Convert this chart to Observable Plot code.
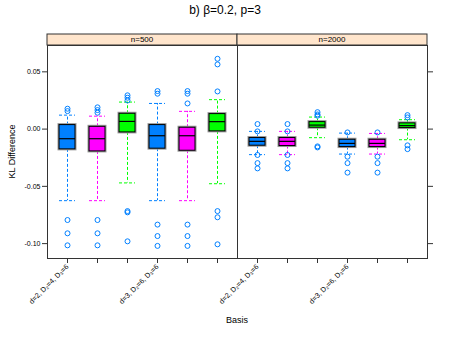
<!DOCTYPE html>
<html>
<head>
<meta charset="utf-8">
<script src="https://cdn.jsdelivr.net/npm/d3@7"></script>
<script src="https://cdn.jsdelivr.net/npm/@observablehq/plot@0.6"></script>
<style>
  body { margin: 0; background: #fff; font-family: "Liberation Sans", Arial, sans-serif; }
  #title { height: 22px; line-height: 20px; text-align: center; font-size: 12px; color: #000; width: 450px; }
</style>
</head>
<body>
<div id="title">b) β=0.2, p=3</div>
<div id="chart"></div>
<script>
const panels = ["n=500", "n=2000"];
const boxKeys = ["b1", "b2", "b3", "b4", "b5", "b6"];
const seriesOf = ["A", "B", "C", "A", "B", "C"];
const seriesNames = ["A", "B", "C"];
const seriesColors = ["#0080ff", "#ff00ff", "#00ff00"];
const tickLabels = ["d=2, D₂=4, D₃=6", "", "", "d=3, D₂=6, D₃=6", "", ""];
const yTicks = [0.05, 0, -0.05, -0.10];

// n=500
const q1_500  = [-0.0177, -0.0195, -0.0029, -0.0171, -0.0189, -0.0020];
const med_500 = [-0.0084, -0.0084, 0.0067, -0.0058, -0.0058, 0.0065];
const q3_500  = [0.0035, 0.0020, 0.0134, 0.0035, 0.0012, 0.0131];
const lo_500  = [-0.0625, -0.0625, -0.0470, -0.0625, -0.0625, -0.0477];
const hi_500  = [0.0122, 0.0113, 0.0236, 0.0224, 0.0155, 0.0257];
const out_500 = [
  [0.0178, 0.0157, -0.0794, -0.0910, -0.1015],
  [0.0190, 0.0166, 0.0143, -0.0794, -0.0910, -0.1015],
  [0.0295, 0.0274, 0.0250, -0.0716, -0.0727, -0.0980],
  [0.0332, 0.0309, -0.0834, -0.0934, -0.1020],
  [0.0332, 0.0309, 0.0224, -0.0834, -0.0934, -0.1020],
  [0.0614, 0.0565, 0.0329, -0.0716, -0.0770, -0.1006]
];
// n=2000
const q1_2000  = [-0.0145, -0.0148, 0.0012, -0.0157, -0.0157, 0.0009];
const med_2000 = [-0.0107, -0.0107, 0.0035, -0.0125, -0.0125, 0.0030];
const q3_2000  = [-0.0078, -0.0078, 0.0061, -0.0093, -0.0093, 0.0050];
const lo_2000  = [-0.0223, -0.0223, -0.0075, -0.0218, -0.0218, -0.0093];
const hi_2000  = [-0.0020, -0.0020, 0.0105, -0.0035, -0.0038, 0.0082];
const out_2000 = [
  [0.0044, -0.0020, -0.0226, -0.0297, -0.0343],
  [0.0044, -0.0020, -0.0226, -0.0297, -0.0343],
  [0.0148, 0.0128, 0.0117, -0.0151, -0.0160],
  [-0.0029, -0.0241, -0.0297, -0.0380],
  [-0.0029, -0.0241, -0.0297, -0.0380],
  [0.0122, 0.0102, -0.0142, -0.0175]
];

const stats = [
  {q1: q1_500, med: med_500, q3: q3_500, lo: lo_500, hi: hi_500, out: out_500},
  {q1: q1_2000, med: med_2000, q3: q3_2000, lo: lo_2000, hi: hi_2000, out: out_2000}
];

const boxes = panels.flatMap((p, pi) => boxKeys.map((k, i) => ({
  panel: p, key: k, series: seriesOf[i],
  q1: stats[pi].q1[i], med: stats[pi].med[i], q3: stats[pi].q3[i],
  lo: stats[pi].lo[i], hi: stats[pi].hi[i]
})));
const outliers = panels.flatMap((p, pi) => boxKeys.flatMap((k, i) =>
  stats[pi].out[i].map(v => ({panel: p, key: k, v}))));

const font = "Liberation Sans, Arial, sans-serif";
const dash = "3,2";

const plot = Plot.plot({
  width: 450, height: 315,
  marginLeft: 47, marginRight: 23, marginTop: 23, marginBottom: 79,
  style: {fontFamily: font, fontSize: "7px", color: "#000", background: "#fff"},
  fx: {domain: panels, padding: 0, axis: null},
  x: {domain: boxKeys, type: "band", paddingInner: 0.477, paddingOuter: 0.338, axis: null},
  y: {domain: [-0.113, 0.073], axis: null},
  color: {domain: seriesNames, range: seriesColors},
  marks: [
    Plot.ruleX(boxes, {fx: "panel", x: "key", y1: "q3", y2: "hi", stroke: "series", strokeDasharray: dash}),
    Plot.ruleX(boxes, {fx: "panel", x: "key", y1: "q1", y2: "lo", stroke: "series", strokeDasharray: dash}),
    Plot.tickY(boxes, {fx: "panel", x: "key", y: "hi", stroke: "series", strokeDasharray: dash}),
    Plot.tickY(boxes, {fx: "panel", x: "key", y: "lo", stroke: "series", strokeDasharray: dash}),
    Plot.barY(boxes, {fx: "panel", x: "key", y1: "q1", y2: "q3", fill: "none", stroke: "#9a9a9a", strokeWidth: 3}),
    Plot.barY(boxes, {fx: "panel", x: "key", y1: "q1", y2: "q3", fill: "series", stroke: "#000", strokeWidth: 1}),
    Plot.tickY(boxes, {fx: "panel", x: "key", y: "med", stroke: "#000", strokeWidth: 1.2}),
    Plot.dot(outliers, {fx: "panel", x: "key", y: "v", r: 2.5, stroke: "#0080ff", fill: "none", strokeWidth: 1}),
    Plot.frame({stroke: "#333", strokeWidth: 1}),
    Plot.axisY({anchor: "left", ticks: yTicks, tickFormat: d => d.toFixed(2), tickSize: 5, tickPadding: 2, fontSize: 7, stroke: "#333", label: null}),
    Plot.axisY({anchor: "right", ticks: yTicks, tickFormat: () => "", tickSize: 5, stroke: "#333", label: null}),
    Plot.axisX({anchor: "bottom", tickRotate: -45, tickFormat: (d, i) => tickLabels[boxKeys.indexOf(d)], tickSize: 5, tickPadding: 2, fontSize: 7.2, stroke: "#333", label: null})
  ]
});

document.getElementById("chart").appendChild(plot);

// strips and axis titles
const svg = d3.select(plot);
const fxScale = plot.scale("fx");
const panelTop = 23;
panels.forEach(p => {
  const x0 = fxScale.apply(p);
  const bw = fxScale.bandwidth;
  svg.append("rect").attr("x", x0).attr("y", panelTop - 11).attr("width", bw).attr("height", 11)
    .attr("fill", "#ffe5cc").attr("stroke", "#333").attr("stroke-width", 1);
  svg.append("text").attr("x", x0 + bw / 2).attr("y", panelTop - 5.5).attr("dy", "0.35em")
    .attr("text-anchor", "middle").attr("font-size", 8).attr("fill", "#000").text(p);
});
const xMid = (fxScale.apply(panels[0]) + fxScale.apply(panels[1]) + fxScale.bandwidth) / 2;
svg.append("text").attr("x", xMid).attr("y", 301).attr("text-anchor", "middle")
  .attr("font-size", 9).attr("fill", "#000").text("Basis");
svg.append("text").attr("transform", `translate(15,${(23 + 236) / 2}) rotate(-90)`)
  .attr("text-anchor", "middle").attr("font-size", 9).attr("fill", "#000").text("KL Difference");
</script>
</body>
</html>
